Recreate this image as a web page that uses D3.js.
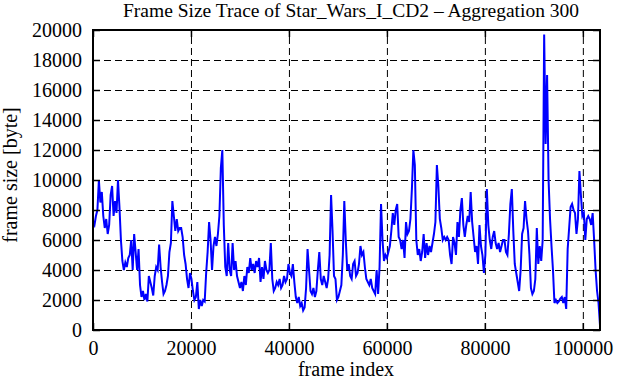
<!DOCTYPE html>
<html>
<head>
  <meta charset="utf-8">
  <script src="https://d3js.org/d3.v7.min.js"></script>
  <style>
  body { margin: 0; background: #fff; }
  svg { display: block; font-family: "Liberation Serif", "Times New Roman", serif; }
  .grid line { stroke: #000; stroke-width: 1; stroke-dasharray: 7,4; }
  .grid path { display: none; }
  .axis path { display: none; }
  .axis line { stroke: #000; stroke-width: 1.5; }
  .axis text { font-family: "Liberation Serif", serif; font-size: 20px; fill: #000; }
  </style>
</head>
<body>
  <svg id="trace" width="619" height="380"></svg>
  <script>

// aggregated frame size trace, one value every 300 frames
var aggregation = 300;
var frameSize = [
  7200, 7000, 7600, 8000, 10000, 8500, 9200, 7600, 6800, 7400,
  6400, 7000, 9000, 9600, 7600, 8600, 7800, 10000, 8200, 6000,
  4600, 4000, 4500, 4200, 4800, 5000, 6000, 4000, 6400, 5200,
  4000, 5400, 3000, 2200, 2600, 2000, 2400, 1900, 3600, 3200,
  2800, 2300, 3600, 4200, 4000, 5700, 4200, 3200, 2400, 2600,
  3000, 3600, 5200, 5800, 8600, 7600, 6600, 7400, 6600, 6800,
  6800, 6200, 5000, 4400, 3400, 2800, 3800, 3400, 2600, 2000,
  2200, 3200, 1400, 2000, 1600, 2000, 1900, 3800, 5200, 7200,
  6000, 4000, 5600, 6200, 5600, 6400, 7600, 10800, 12000, 7000,
  4200, 3600, 5800, 4000, 3600, 5800, 4000, 4600, 3600, 3200,
  2800, 3200, 2600, 3600, 3000, 4200, 3800, 4800, 4000, 4400,
  3800, 4600, 4200, 4800, 3200, 4200, 3400, 4600, 4000, 3800,
  4000, 5800, 3400, 2600, 2800, 3200, 3000, 3400, 2800, 3000,
  3600, 3200, 3400, 4400, 3800, 3600, 4400, 3200, 2200, 1800,
  2200, 1600, 1800, 1300, 1500, 2800, 5400, 4000, 2600, 2400,
  2800, 2200, 2600, 4000, 5200, 3400, 3000, 3600, 3200, 2800,
  3400, 5000, 9000, 6600, 3600, 3400, 2000, 2200, 2600, 3000,
  5000, 8600, 6000, 4000, 4400, 3600, 3400, 4400, 4600, 3600,
  3800, 4400, 5600, 5000, 5200, 4200, 3400, 3200, 3000, 3400,
  2800, 2600, 2400, 4000, 2400, 4200, 8400, 6000, 4600, 5000,
  4800, 5200, 5600, 6600, 7800, 7000, 8000, 8400, 6200, 6000,
  5400, 6000, 4800, 7200, 6400, 6600, 7400, 9400, 12000, 11000,
  6000, 5000, 5400, 4600, 5200, 6400, 4800, 5800, 5000, 5600,
  5200, 5800, 6400, 7200, 11000, 9600, 7400, 6800, 6000, 6200,
  6000, 6200, 6000, 5000, 4400, 6200, 5800, 5000, 7200, 6200,
  8000, 8800, 7000, 6200, 7000, 7600, 7200, 9200, 7200, 6200,
  5200, 5600, 4400, 7000, 5600, 5000, 3800, 5000, 9400, 7000,
  6000, 5400, 6200, 6600, 5800, 5400, 5800, 5200, 5600, 6000,
  6000, 5200, 5000, 6400, 8400, 9400, 6600, 4400, 3800, 3200,
  2600, 4000, 6400, 6800, 8600, 7400, 6600, 5000, 2800, 2400,
  2600, 3400, 6800, 4400, 5600, 4600, 6000, 19700, 12400, 17000,
  10000, 7400, 5600, 4000, 1800, 2000, 1800, 1900, 2100, 2200,
  1800, 2200, 1400, 5400, 6800, 8200, 8400, 8000, 7800, 6400,
  7400, 10600, 9000, 7600, 7800, 6000, 7400, 7600, 7400, 7000,
  7800, 6000, 4000, 2600, 1800, 300
];
var xTicks = [0, 20000, 40000, 60000, 80000, 100000];
var yTicks = [0, 2000, 4000, 6000, 8000, 10000, 12000, 14000, 16000, 18000, 20000];

var svg = d3.select("#trace"),
  plotLeft = 93, plotRight = 600, plotTop = 30, plotBottom = 330;

var x = d3.scaleLinear()
  .domain([0, (frameSize.length - 1) * aggregation])
  .range([plotLeft, plotRight]);

var y = d3.scaleLinear()
  .domain([0, 20000])
  .range([plotBottom, plotTop]);

// dashed grid
svg.append("g")
  .attr("class", "grid")
  .attr("transform", "translate(0," + plotBottom + ")")
  .call(d3.axisBottom(x).tickValues(xTicks).tickSize(-(plotBottom - plotTop)).tickFormat(""));

svg.append("g")
  .attr("class", "grid")
  .attr("transform", "translate(" + plotLeft + ",0)")
  .call(d3.axisLeft(y).tickValues(yTicks).tickSize(-(plotRight - plotLeft)).tickFormat(""));

// the trace
var line = d3.line()
  .x(function(d, i) { return x(i * aggregation); })
  .y(function(d) { return y(d); });

svg.append("path")
  .datum(frameSize)
  .attr("fill", "none")
  .attr("stroke", "#0000ff")
  .attr("stroke-width", 2)
  .attr("d", line);

// ticks on all four sides, pointing in
svg.append("g")
  .attr("class", "axis")
  .attr("transform", "translate(0," + plotBottom + ")")
  .call(d3.axisBottom(x).tickValues(xTicks).tickSize(-7).tickPadding(11).tickFormat(d3.format("d")));

svg.append("g")
  .attr("class", "axis")
  .attr("transform", "translate(0," + plotTop + ")")
  .call(d3.axisTop(x).tickValues(xTicks).tickSize(-7).tickFormat(""));

svg.append("g")
  .attr("class", "axis")
  .attr("transform", "translate(" + plotLeft + ",0)")
  .call(d3.axisLeft(y).tickValues(yTicks).tickSize(-7).tickPadding(11).tickFormat(d3.format("d")));

svg.append("g")
  .attr("class", "axis")
  .attr("transform", "translate(" + plotRight + ",0)")
  .call(d3.axisRight(y).tickValues(yTicks).tickSize(-7).tickFormat(""));

// border
svg.append("rect")
  .attr("x", plotLeft)
  .attr("y", plotTop)
  .attr("width", plotRight - plotLeft)
  .attr("height", plotBottom - plotTop)
  .attr("fill", "none")
  .attr("stroke", "#000")
  .attr("stroke-width", 2);

svg.append("text")
  .attr("x", 351)
  .attr("y", 17)
  .attr("text-anchor", "middle")
  .style("font-size", "19.5px")
  .text("Frame Size Trace of Star_Wars_I_CD2 \u2013 Aggregation 300");

svg.append("text")
  .attr("x", 346)
  .attr("y", 376)
  .attr("text-anchor", "middle")
  .style("font-size", "20px")
  .text("frame index");

svg.append("text")
  .attr("transform", "translate(17,175) rotate(-90)")
  .attr("text-anchor", "middle")
  .style("font-size", "20px")
  .text("frame size [byte]");

  </script>
</body>
</html>
